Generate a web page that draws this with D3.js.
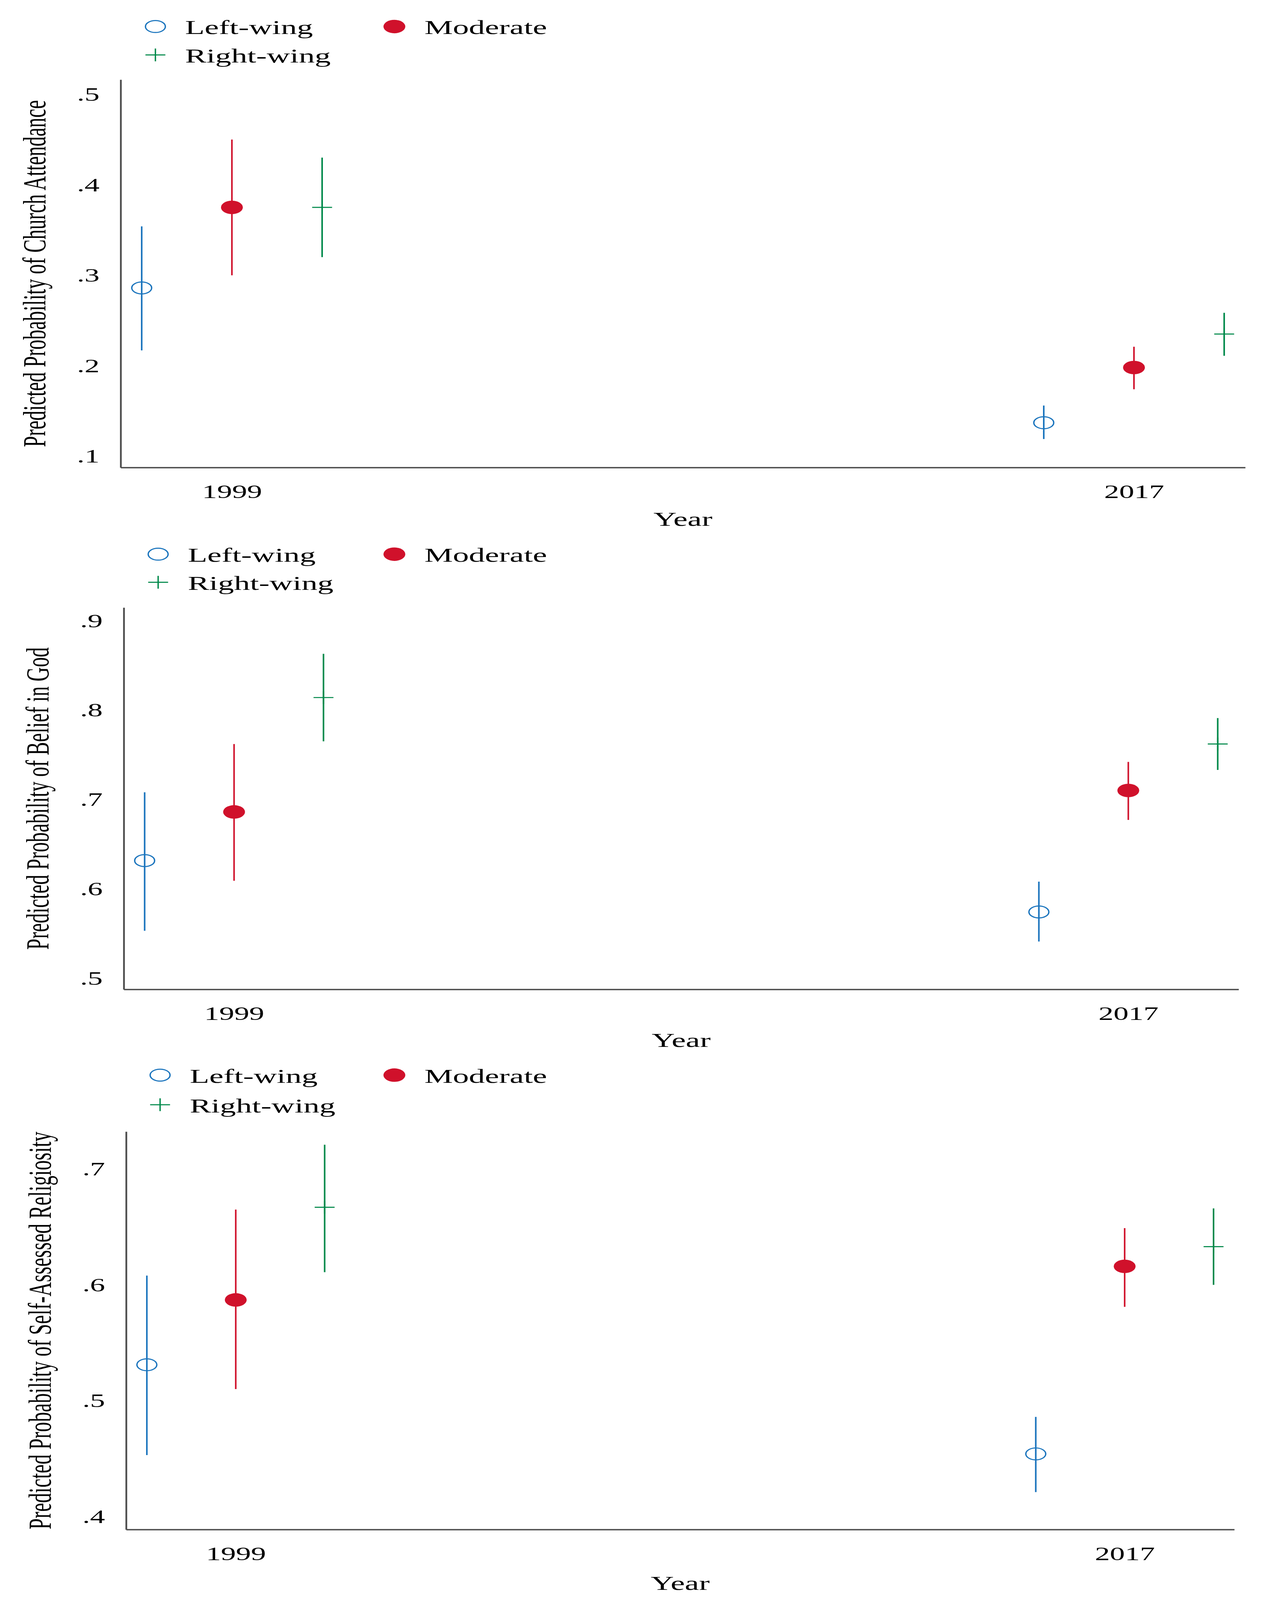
<!DOCTYPE html>
<html lang="en">
    <head>
        <meta charset="UTF-8" />
        <title>Predicted probabilities by ideology, 1999 and 2017</title>
        <style>
            html, body { margin: 0; padding: 0; background: #fff; overflow: hidden; }
            svg { display: block; }
            text { font-family: 'Liberation Serif', 'Times New Roman', serif; fill: #000; }
            .domain { stroke: #4d4d4d; stroke-width: 4.5px; }
        </style>
    </head>
    <body>
        <svg></svg>
        <script src="https://d3js.org/d3.v7.min.js"></script>
        <script>
            // order of every value array: 1999 left, moderate, right, then 2017 left, moderate, right
            const groups = ['Left-wing', 'Moderate', 'Right-wing'];
            const years = [1999, 2017];
            const offsets = [-1.8, 0, 1.8];

            const churchEst = [0.286, 0.375, 0.375, 0.137, 0.198, 0.235];
            const churchLo = [0.217, 0.3, 0.32, 0.119, 0.174, 0.211];
            const churchHi = [0.354, 0.45, 0.43, 0.156, 0.221, 0.2585];
            const churchTicks = [0.1, 0.2, 0.3, 0.4, 0.5];

            const godEst = [0.6315, 0.686, 0.814, 0.574, 0.71, 0.762];
            const godLo = [0.553, 0.609, 0.765, 0.541, 0.677, 0.733];
            const godHi = [0.708, 0.762, 0.863, 0.608, 0.742, 0.791];
            const godTicks = [0.5, 0.6, 0.7, 0.8, 0.9];

            const selfEst = [0.531, 0.587, 0.667, 0.454, 0.616, 0.633];
            const selfLo = [0.453, 0.51, 0.611, 0.421, 0.581, 0.6];
            const selfHi = [0.608, 0.665, 0.721, 0.486, 0.649, 0.666];
            const selfTicks = [0.4, 0.5, 0.6, 0.7];

            const colors = ['#1a74bd', '#d0112b', '#00894a'];
            const kinds = ['circle', 'dot', 'plus'];
            const SX = 1.26; // the original is stretched sideways
            const W = 3255,
                H = 5243;

            const panels = [
                { title: 'Predicted Probability of Church Attendance', est: churchEst, lo: churchLo, hi: churchHi, ticks: churchTicks,
                  left: 309, right: 3189, top: 261, bottom: 1532, yMin: 0.0875, yMax: 0.5162, legX: 398, legY: 87, legGap: 93, yearDy: 191 },
                { title: 'Predicted Probability of Belief in God', est: godEst, lo: godLo, hi: godHi, ticks: godTicks,
                  left: 317, right: 3172, top: 1991, bottom: 3242, yMin: 0.4874, yMax: 0.9147, legX: 405, legY: 1816, legGap: 92, yearDy: 189 },
                { title: 'Predicted Probability of Self-Assessed Religiosity', est: selfEst, lo: selfLo, hi: selfHi, ticks: selfTicks,
                  left: 323, right: 3161, top: 3708, bottom: 5012, yMin: 0.3887, yMax: 0.7324, legX: 410, legY: 3523, legGap: 97, yearDy: 198 }
            ];

            // the window may be shorter than the figure, so draw in figure units and fit it to the window
            const svg = d3
                .select('svg')
                .attr('width', window.innerWidth || W)
                .attr('height', window.innerHeight || H)
                .attr('viewBox', `0 0 ${W} ${H}`)
                .attr('preserveAspectRatio', 'none');
            svg.append('rect').attr('width', W).attr('height', H).attr('fill', '#fff');

            function label(g, x, y, txt, size, anchor, rotate) {
                return g
                    .append('text')
                    .attr('transform', `translate(${x},${y}) scale(${SX},1)` + (rotate ? ' rotate(-90)' : ''))
                    .attr('text-anchor', anchor)
                    .style('font-size', size + 'px')
                    .text(txt);
            }

            function marker(g, kind, cx, cy, color) {
                if (kind === 'circle') {
                    g.append('ellipse').attr('cx', cx).attr('cy', cy).attr('rx', 25.5).attr('ry', 19.5)
                        .attr('fill', 'none').attr('stroke', color).attr('stroke-width', 3.5);
                } else if (kind === 'dot') {
                    g.append('ellipse').attr('cx', cx).attr('cy', cy).attr('rx', 28).attr('ry', 22).attr('fill', color);
                } else {
                    g.append('line').attr('x1', cx - 25.5).attr('x2', cx + 25.5).attr('y1', cy).attr('y2', cy)
                        .attr('stroke', color).attr('stroke-width', 3.5);
                    g.append('line').attr('x1', cx).attr('x2', cx).attr('y1', cy - 21).attr('y2', cy + 21)
                        .attr('stroke', color).attr('stroke-width', 3.5);
                }
            }

            panels.forEach((p) => {
                const g = svg.append('g');

                const x = d3.scaleLinear().domain([years[0] - 2.22, years[1] + 2.22]).range([p.left, p.right]);
                const y = d3.scaleLinear().domain([p.yMin, p.yMax]).range([p.bottom, p.top]);

                // legend
                const legPos = [
                    [p.legX, p.legY],
                    [1010, p.legY],
                    [p.legX, p.legY + p.legGap]
                ];
                groups.forEach((name, i) => {
                    marker(g, kinds[i], legPos[i][0], legPos[i][1], colors[i]);
                    label(g, i === 1 ? 1087 : legPos[i][0] + 76, legPos[i][1] + 25, name, 65, 'start');
                });

                // axes
                const yAxis = g.append('g').attr('transform', `translate(${p.left},0)`)
                    .call(d3.axisLeft(y).tickValues(p.ticks).tickSize(0).tickSizeOuter(0)
                        .tickFormat((d) => d3.format('.1f')(d).replace(/^0/, '')));
                yAxis.selectAll('.tick text')
                    .attr('x', -54 / SX)
                    .attr('dy', '0.34em')
                    .attr('transform', `scale(${SX},1)`)
                    .style('font-size', '61px')
                    .style('font-family', "'Liberation Serif', 'Times New Roman', serif");

                const xAxis = g.append('g').attr('transform', `translate(0,${p.bottom})`)
                    .call(d3.axisBottom(x).tickValues(years).tickSize(0).tickSizeOuter(0).tickFormat(d3.format('d')));
                xAxis.selectAll('.tick text')
                    .attr('y', 100)
                    .attr('dy', 0)
                    .attr('transform', `scale(${SX},1)`)
                    .style('font-size', '61px')
                    .style('font-family', "'Liberation Serif', 'Times New Roman', serif");
                xAxis.selectAll('.tick line').remove();
                yAxis.selectAll('.tick line').remove();

                // titles
                label(g, p.left - 193, (p.top + p.bottom) / 2, p.title, 65, 'middle', true);
                label(g, (p.left + p.right) / 2, p.bottom + p.yearDy, 'Year', 65, 'middle');

                // estimates with confidence intervals
                const pts = p.est.map((v, k) => ({
                    year: years[Math.floor(k / 3)],
                    grp: k % 3,
                    est: v,
                    lo: p.lo[k],
                    hi: p.hi[k]
                }));

                g.append('g').selectAll('line').data(pts).join('line')
                    .attr('x1', (d) => x(d.year + offsets[d.grp]))
                    .attr('x2', (d) => x(d.year + offsets[d.grp]))
                    .attr('y1', (d) => y(d.lo))
                    .attr('y2', (d) => y(d.hi))
                    .attr('stroke', (d) => colors[d.grp])
                    .attr('stroke-width', 4);

                const mk = g.append('g');
                pts.forEach((d) => marker(mk, kinds[d.grp], x(d.year + offsets[d.grp]), y(d.est), colors[d.grp]));
            });
        </script>
    </body>
</html>
